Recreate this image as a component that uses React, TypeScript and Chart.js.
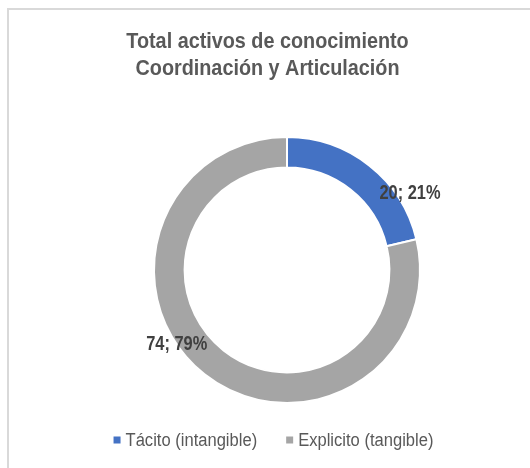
import React, { useEffect, useRef } from "react";
import { Chart, registerables } from "chart.js";

Chart.register(...registerables);

const categories = ["Tácito (intangible)", "Explicito (tangible)"];
const values = [20, 74];
const colors = ["#4472C4", "#A5A5A5"];
const titleLines = ["Total activos de conocimiento", "Coordinación y Articulación"];

const SANS = "'Liberation Sans', Arial, sans-serif";

function drawScaled(
  ctx: CanvasRenderingContext2D,
  text: string,
  x: number,
  y: number,
  sx: number
) {
  ctx.save();
  ctx.translate(x, y);
  ctx.scale(sx, 1);
  ctx.fillText(text, 0, 0);
  ctx.restore();
}

const decorPlugin = {
  id: "decor",
  afterDraw(chart: any) {
    const ctx = chart.ctx as CanvasRenderingContext2D;
    const W = chart.width;
    const opts = chart.options.plugins.decor;
    ctx.save();

    // Title
    ctx.fillStyle = "#595959";
    ctx.font = `bold 22px ${SANS}`;
    ctx.textAlign = "center";
    ctx.textBaseline = "alphabetic";
    const tx = W / 2 - 2;
    titleLines.forEach((line, i) => drawScaled(ctx, line, tx, 38 + i * 27, 0.9));

    // Data labels
    const meta = chart.getDatasetMeta(0);
    const total = values.reduce((a, b) => a + b, 0);
    ctx.font = `bold 20px ${SANS}`;
    ctx.fillStyle = "#404040";
    ctx.textBaseline = "middle";
    meta.data.forEach((arc: any, i: number) => {
      const { x, y, outerRadius } = arc.getProps(["x", "y", "outerRadius"], true);
      const p = opts.labels[i];
      const ang = ((p.angle - 90) * Math.PI) / 180;
      const lx = x + Math.cos(ang) * outerRadius * p.dist;
      const ly = y + Math.sin(ang) * outerRadius * p.dist;
      const pct = Math.round((values[i] / total) * 100);
      drawScaled(ctx, `${values[i]}; ${pct}%`, lx, ly, 0.82);
    });

    // Legend
    const lsx = 0.92;
    ctx.font = `18px ${SANS}`;
    ctx.textAlign = "left";
    ctx.textBaseline = "middle";
    const marker = 7;
    const mGap = 5;
    const itemGap = 29;
    const widths = categories.map((c) => ctx.measureText(c).width * lsx);
    const totalW =
      widths.reduce((a, w) => a + marker + mGap + w, 0) + itemGap * (categories.length - 1);
    let lx = W / 2 + 4 - totalW / 2;
    const ly = 430;
    categories.forEach((c, i) => {
      ctx.fillStyle = colors[i];
      ctx.fillRect(lx, ly - marker / 2, marker, marker);
      lx += marker + mGap;
      ctx.fillStyle = "#595959";
      drawScaled(ctx, c, lx, ly + 1, lsx);
      lx += widths[i] + itemGap;
    });

    ctx.restore();
  },
};

export default function App() {
  const canvasRef = useRef<HTMLCanvasElement | null>(null);

  useEffect(() => {
    if (!canvasRef.current) return;
    const chart = new Chart(canvasRef.current, {
      type: "doughnut",
      data: {
        labels: categories,
        datasets: [
          {
            data: values,
            backgroundColor: colors,
            borderColor: "#ffffff",
            borderWidth: 2,
          },
        ],
      },
      options: {
        animation: false,
        responsive: true,
        maintainAspectRatio: false,
        cutout: "77%",
        layout: { padding: { left: 144, right: 109, top: 126, bottom: 64 } },
        plugins: {
          legend: { display: false },
          title: { display: false },
          tooltip: { enabled: false },
          decor: {
            labels: [
              { angle: 58, dist: 1.09 },
              { angle: 236, dist: 1.0 },
            ],
          },
        } as any,
      },
      plugins: [decorPlugin],
    });
    return () => chart.destroy();
  }, []);

  return (
    <div
      style={{
        position: "fixed",
        left: 7,
        top: 8,
        width: 521,
        height: 458,
        borderLeft: "2px solid #d9d9d9",
        borderTop: "2px solid #d9d9d9",
        background: "#ffffff",
      }}
    >
      <div style={{ position: "relative", width: 521, height: 458 }}>
        <canvas ref={canvasRef} />
      </div>
    </div>
  );
}
